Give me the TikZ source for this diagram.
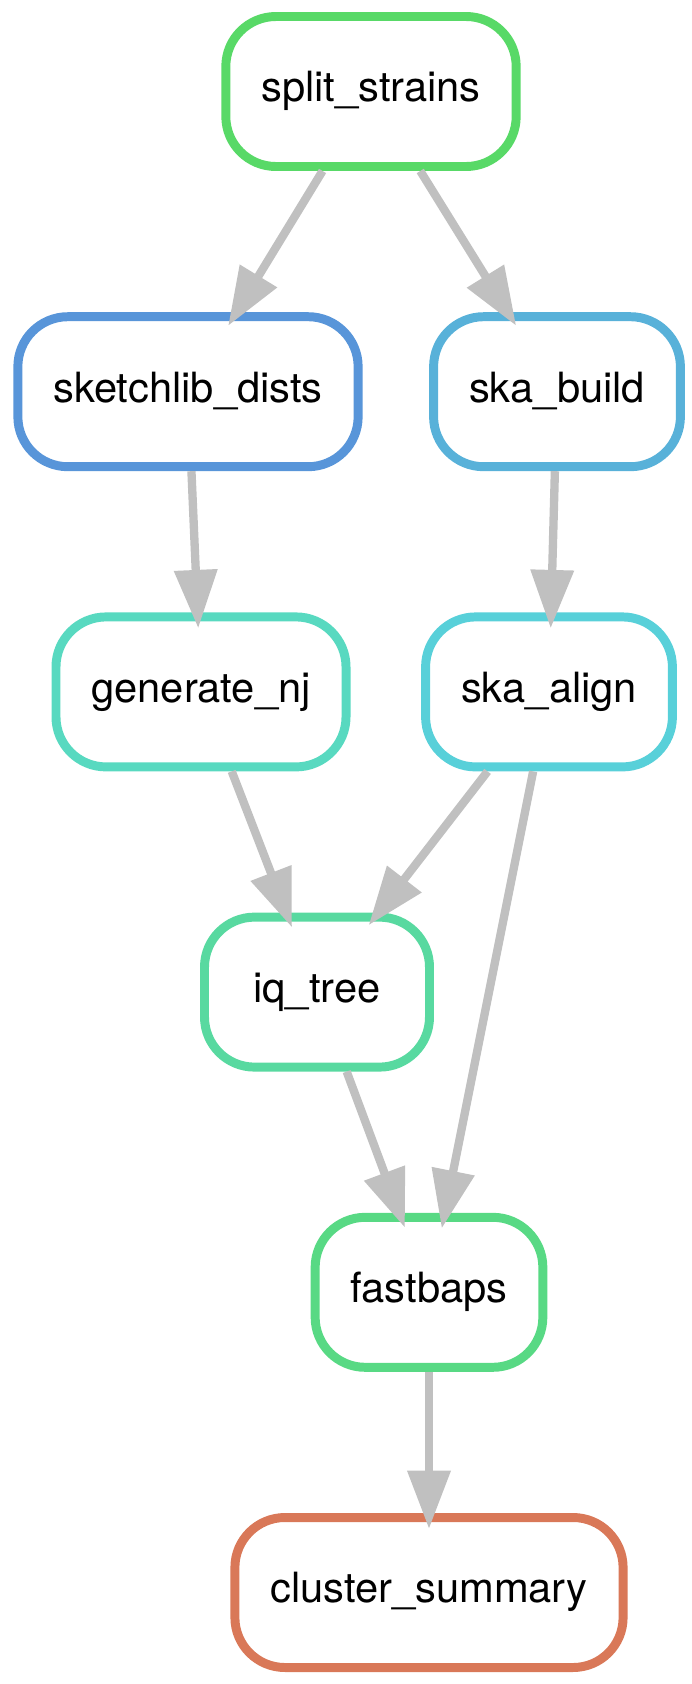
\documentclass[tikz,border=0pt]{standalone}
\usepackage{xcolor}
\usepackage{fontspec}
\setmainfont{TeX Gyre Heros}
\usepackage{tikz}
\usetikzlibrary{arrows.meta}
\definecolor{splitcol}{RGB}{88,217,103}
\definecolor{sketchcol}{RGB}{88,149,217}
\definecolor{buildcol}{RGB}{88,177,217}
\definecolor{njcol}{RGB}{88,217,192}
\definecolor{aligncol}{RGB}{88,208,217}
\definecolor{iqcol}{RGB}{88,217,160}
\definecolor{bapscol}{RGB}{88,217,132}
\definecolor{summarycol}{RGB}{217,120,88}
\definecolor{edgegrey}{RGB}{192,192,192}

\begin{document}
\begin{tikzpicture}[x=0.24pt,y=0.24pt]
                \tikzstyle{rule}=[draw, line width=2.15pt, rounded corners=12pt, fill=white, minimum height=36pt, minimum width=54pt, inner xsep=8.5pt, text height=7.5pt, text depth=2.5pt, font=\fontsize{10pt}{12pt}\selectfont]
                \tikzstyle{dep}=[draw=edgegrey, line width=2pt, -{Triangle[length=14pt,width=10pt]}, shorten >=-3.8pt]
                \useasboundingbox (0,0) rectangle (692,-1684);
                \node [rule, draw=splitcol] (split_strains) at (371,-91.5) {split\_strains};
                \node [rule, draw=sketchcol] (sketchlib_dists) at (188,-391.7) {sketchlib\_dists};
                \node [rule, draw=buildcol] (ska_build) at (557,-391.7) {ska\_build};
                \node [rule, draw=njcol] (generate_nj) at (201,-691.9) {generate\_nj};
                \node [rule, draw=aligncol] (ska_align) at (549,-691.9) {ska\_align};
                \node [rule, draw=iqcol] (iq_tree) at (317,-992.1) {iq\_tree};
                \node [rule, draw=bapscol] (fastbaps) at (429,-1292.3) {fastbaps};
                \node [rule, draw=summarycol] (cluster_summary) at (429,-1592.5) {cluster\_summary};
                \draw [dep] (split_strains) -- (sketchlib_dists);
                \draw [dep] (split_strains) -- (ska_build);
                \draw [dep] (sketchlib_dists) -- (generate_nj);
                \draw [dep] (ska_build) -- (ska_align);
                \draw [dep] (generate_nj) -- (iq_tree);
                \draw [dep] (ska_align) -- (iq_tree);
                \draw [dep] (ska_align) -- (fastbaps);
                \draw [dep] (iq_tree) -- (fastbaps);
                \draw [dep] (fastbaps) -- (cluster_summary);
            \end{tikzpicture}
\end{document}
